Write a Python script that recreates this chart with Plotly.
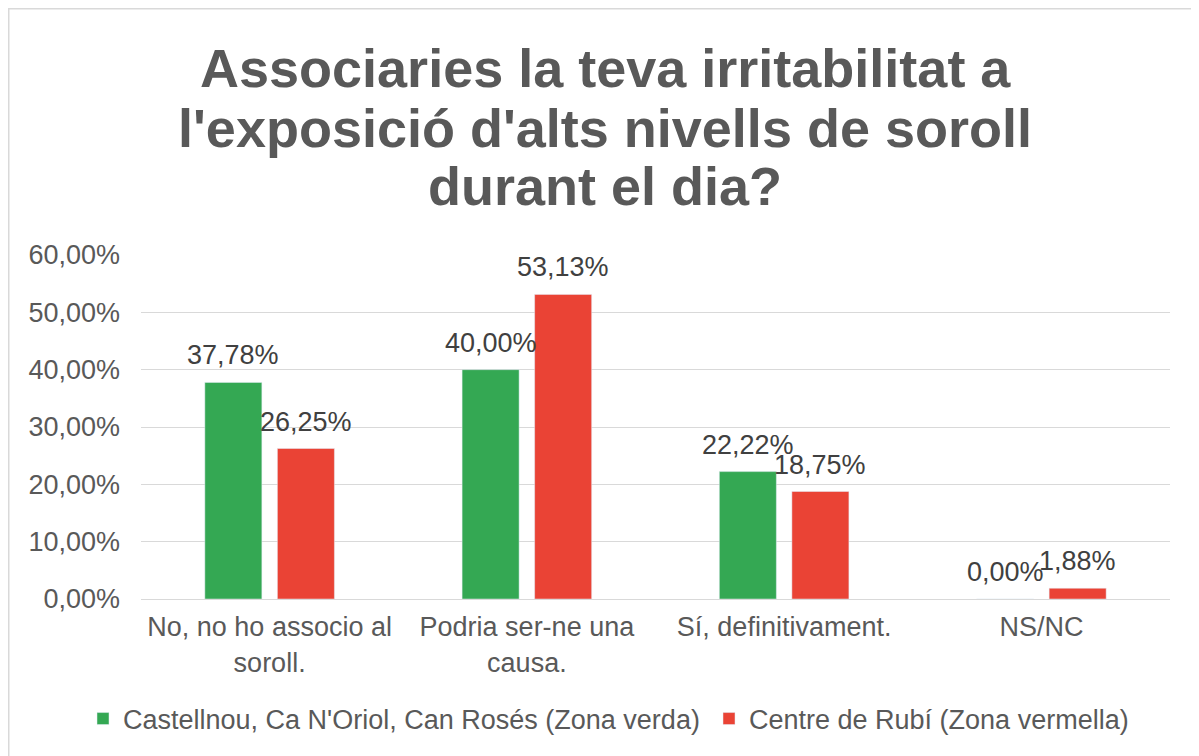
import plotly.graph_objects as go

categories = ["No, no ho associo al<br>soroll.", "Podria ser-ne una<br>causa.", "Sí, definitivament.", "NS/NC"]
green_name = "Castellnou, Ca N'Oriol, Can Rosés (Zona verda)"
red_name = "Centre de Rubí (Zona vermella)"
green_vals = [37.78, 40.00, 22.22, 0.00]
red_vals = [26.25, 53.13, 18.75, 1.88]
y_ticks = [0, 10, 20, 30, 40, 50, 60]
title_lines = ["Associaries la teva irritabilitat a",
               "l'exposició d'alts nivells de soroll",
               "durant el dia?"]

def fmt(v):
    return f"{v:.2f}".replace(".", ",") + "%"

FONT = "Liberation Sans, Arial, sans-serif"
label_font = dict(family=FONT, size=27, color="#404040")

# page body has an 8px margin, so figure coords = screen coords - 8
OFF = 8
W, H = 1199, 756
ML, MR, MT = 141 - OFF, 1199 - (1170 - OFF), 255 - OFF
MB = H - (599 - OFF)
PW, PH = W - ML - MR, H - MT - MB
BARGAP, GROUPGAP = 0.436, 0.214
slot_px = PW / len(categories) * (1 - BARGAP) / 2

fig = go.Figure()
fig.add_trace(go.Bar(x=categories, y=green_vals, name=green_name, marker_color="#34A853",
                     legend="legend"))
fig.add_trace(go.Bar(x=categories, y=red_vals, name=red_name, marker_color="#EA4335",
                     legend="legend2"))

title_y_px = [60, 120, 178]
annotations = [dict(text=t, xref="paper", yref="paper",
                    x=(605 - OFF - ML) / PW, xanchor="center",
                    y=(H - MB - yp) / PH, yanchor="middle",
                    showarrow=False,
                    font=dict(family=FONT, size=54, color="#595959", weight="bold"))
               for t, yp in zip(title_lines, title_y_px)]

# data labels above bars
for vals, sign in ((green_vals, -1), (red_vals, 1)):
    for c, v in zip(categories, vals):
        annotations.append(dict(text=fmt(v), x=c, y=v, xref="x", yref="y",
                                xshift=sign * slot_px / 2, yshift=10,
                                xanchor="center", yanchor="bottom", showarrow=False,
                                font=label_font))

legend_font = dict(family=FONT, size=27, color="#595959")
legend_y = 1 - (719 - OFF) / H

fig.update_layout(
    width=W, height=H,
    margin=dict(l=ML, r=MR, t=MT, b=MB, autoexpand=False),
    paper_bgcolor="white", plot_bgcolor="white",
    barmode="group", bargap=BARGAP, bargroupgap=GROUPGAP,
    separators=",.",
    annotations=annotations,
    legend=dict(orientation="h", xref="container", yref="container",
                x=(97 - OFF - 14) / W, xanchor="left", y=legend_y, yanchor="middle",
                font=legend_font, itemwidth=30),
    legend2=dict(orientation="h", xref="container", yref="container",
                 x=(723 - OFF - 14) / W, xanchor="left", y=legend_y, yanchor="middle",
                 font=legend_font, itemwidth=30),
    showlegend=True,
    shapes=[dict(type="rect", xref="paper", yref="paper",
                 x0=(0.5 - ML) / PW, x1=(1220 - ML) / PW,
                 y0=-(180) / PH, y1=(H - 0.5 - MB) / PH,
                 line=dict(color="#d9d9d9", width=2), fillcolor="rgba(0,0,0,0)", layer="below")],
)
fig.update_yaxes(range=[0, 60], tickvals=y_ticks,
                 ticktext=[fmt(v) for v in y_ticks],
                 showgrid=True, gridcolor="#d9d9d9", gridwidth=1,
                 zeroline=False, showline=False, ticks="",
                 ticklabelstandoff=20,
                 tickfont=dict(family=FONT, size=27, color="#595959"))
fig.update_xaxes(showline=True, linecolor="#d9d9d9", linewidth=1, ticks="",
                 ticklabelstandoff=4,
                 tickfont=dict(family=FONT, size=27, color="#595959"))

fig.write_html("out.html")
